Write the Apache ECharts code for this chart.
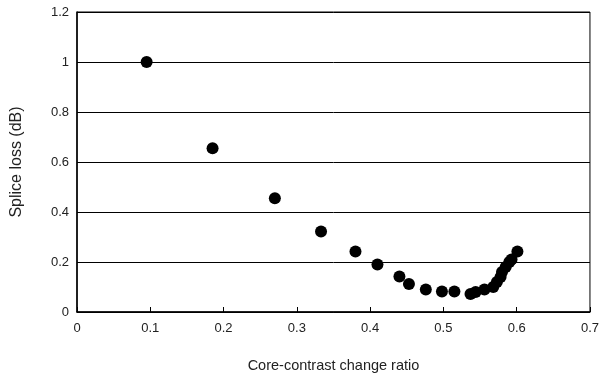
<!DOCTYPE html>
<html>
<head>
<meta charset="utf-8">
<script src="https://cdn.jsdelivr.net/npm/echarts@6/dist/echarts.min.js"></script>
<style>
  html, body { margin: 0; padding: 0; background: #fff; }
  #chart { width: 602px; height: 380px; }
</style>
</head>
<body>
<div id="chart"></div>
<script>
// core-contrast change ratio vs splice loss
const ratio = [0.095, 0.185, 0.27, 0.333, 0.38, 0.41, 0.44, 0.453, 0.476, 0.498, 0.515,
  0.537, 0.544, 0.556, 0.568, 0.573, 0.578, 0.58, 0.585, 0.59, 0.593, 0.601]
const loss = [1.0, 0.655, 0.455, 0.322, 0.242, 0.19, 0.142, 0.112, 0.09, 0.082, 0.082,
  0.072, 0.08, 0.09, 0.1, 0.12, 0.14, 0.16, 0.18, 0.2, 0.21, 0.242]

const xName = 'Core-contrast change ratio'
const yName = 'Splice loss (dB)'

const chart = echarts.init(document.getElementById('chart'))

const labelStyle = {
  color: '#222',
  fontFamily: 'Liberation Sans, Arial, sans-serif',
  fontSize: 13,
}

chart.setOption({
  animation: false,
  grid: {
    left: 77,
    right: 11,
    top: 12,
    bottom: 68,
    show: true,
    borderColor: '#000',
    borderWidth: 1,
  },
  xAxis: {
    type: 'value',
    min: 0,
    max: 0.7,
    interval: 0.1,
    name: xName,
    nameLocation: 'middle',
    nameGap: 46,
    nameTextStyle: { ...labelStyle, fontSize: 14.5 },
    axisLine: { show: true, lineStyle: { color: '#000', width: 1.5 } },
    axisTick: { show: true, inside: true, length: 5, lineStyle: { color: '#000' } },
    axisLabel: { ...labelStyle, margin: 10 },
    splitLine: { show: false },
  },
  yAxis: {
    type: 'value',
    min: 0,
    max: 1.2,
    interval: 0.2,
    name: yName,
    nameLocation: 'middle',
    nameGap: 52,
    nameTextStyle: { ...labelStyle, fontSize: 16 },
    axisLine: { show: true, lineStyle: { color: '#000', width: 1.5 } },
    axisTick: { show: true, inside: true, length: 3, lineStyle: { color: '#000' } },
    axisLabel: { ...labelStyle, margin: 8 },
    splitLine: { show: true, lineStyle: { color: '#000', width: 1 } },
  },
  series: [
    {
      type: 'scatter',
      symbol: 'circle',
      symbolSize: 12,
      itemStyle: { color: '#000', opacity: 1 },
      data: ratio.map((x, i) => [x, loss[i]]),
    },
  ],
})
</script>
</body>
</html>
